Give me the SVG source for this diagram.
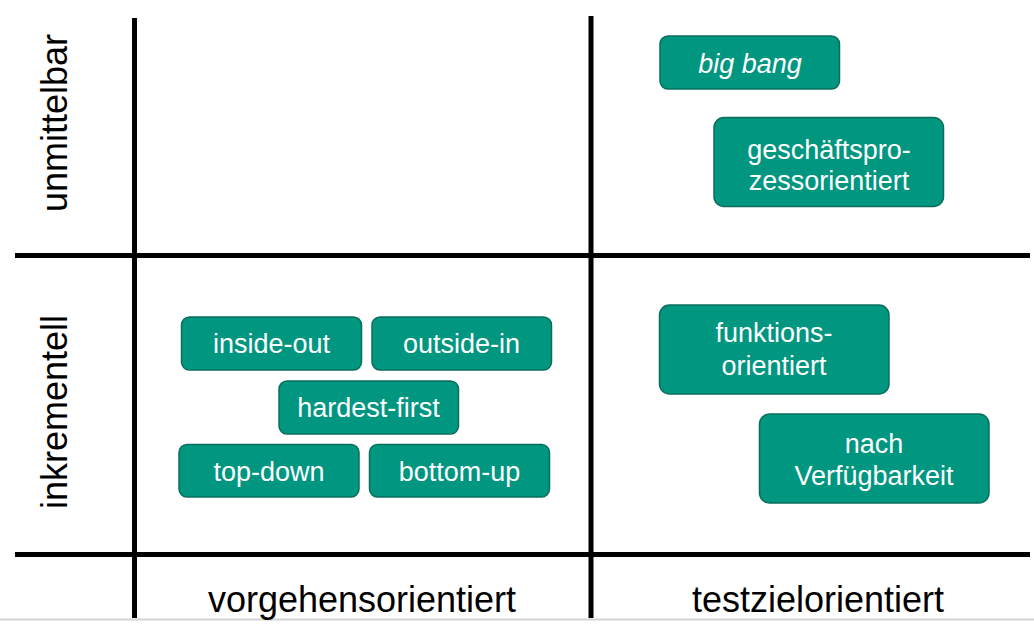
<svg xmlns="http://www.w3.org/2000/svg" width="1034" height="624" viewBox="0 0 1034 624">
<style>
.box{fill:#00967f;stroke:#0b6e5d;stroke-width:1.5}
.bt{font-family:"Liberation Sans",Arial,sans-serif;font-size:27px;fill:#ffffff;text-anchor:middle}
.ax{font-family:"Liberation Sans",Arial,sans-serif;font-size:36px;fill:#000000;text-anchor:middle}
.grid{stroke:#000000;stroke-width:5;fill:none}
</style>
<rect x="0" y="0" width="1034" height="624" fill="#ffffff"/>
<g id="connectors">
<line class="grid" x1="134.5" y1="18" x2="134.5" y2="618"/>
<line class="grid" x1="591" y1="16" x2="591" y2="618"/>
<line class="grid" x1="15" y1="255.5" x2="1030" y2="255.5"/>
<line class="grid" x1="15" y1="554.5" x2="1030" y2="554.5"/>
<line x1="0" y1="619.5" x2="1034" y2="619.5" stroke="#d4d4d4" stroke-width="2"/>
</g>
<g id="axis-labels">
<text class="ax" transform="translate(67,123) rotate(-90)">unmittelbar</text>
<text class="ax" transform="translate(67,412) rotate(-90)">inkrementell</text>
<text class="ax" x="362" y="612">vorgehensorientiert</text>
<text class="ax" x="818" y="612">testzielorientiert</text>
</g>
<g id="big-bang">
<rect class="box" x="660" y="36" width="179.5" height="53" rx="8"/>
<text class="bt" x="750" y="72.5" font-style="italic">big bang</text>
</g>
<g id="geschaeftsprozessorientiert">
<rect class="box" x="714" y="117.5" width="229.5" height="89" rx="10"/>
<text class="bt" x="829" y="159">geschäftspro-</text>
<text class="bt" x="829" y="190">zessorientiert</text>
</g>
<g id="inside-out">
<rect class="box" x="181.5" y="317" width="180" height="53" rx="8"/>
<text class="bt" x="271.5" y="353">inside-out</text>
</g>
<g id="outside-in">
<rect class="box" x="372" y="317" width="179.5" height="53" rx="8"/>
<text class="bt" x="461.5" y="353">outside-in</text>
</g>
<g id="hardest-first">
<rect class="box" x="279" y="381" width="179.5" height="53" rx="8"/>
<text class="bt" x="368.5" y="417">hardest-first</text>
</g>
<g id="top-down">
<rect class="box" x="179" y="444.5" width="180" height="52.5" rx="8"/>
<text class="bt" x="269" y="480.5">top-down</text>
</g>
<g id="bottom-up">
<rect class="box" x="369.5" y="444.5" width="180" height="52.5" rx="8"/>
<text class="bt" x="459.5" y="480.5">bottom-up</text>
</g>
<g id="funktionsorientiert">
<rect class="box" x="659.5" y="305" width="229.5" height="89" rx="10"/>
<text class="bt" x="774" y="342">funktions-</text>
<text class="bt" x="774" y="375">orientiert</text>
</g>
<g id="nach-verfuegbarkeit">
<rect class="box" x="759.5" y="414" width="229.5" height="89" rx="10"/>
<text class="bt" x="874" y="453">nach</text>
<text class="bt" x="874" y="485">Verfügbarkeit</text>
</g>
</svg>
